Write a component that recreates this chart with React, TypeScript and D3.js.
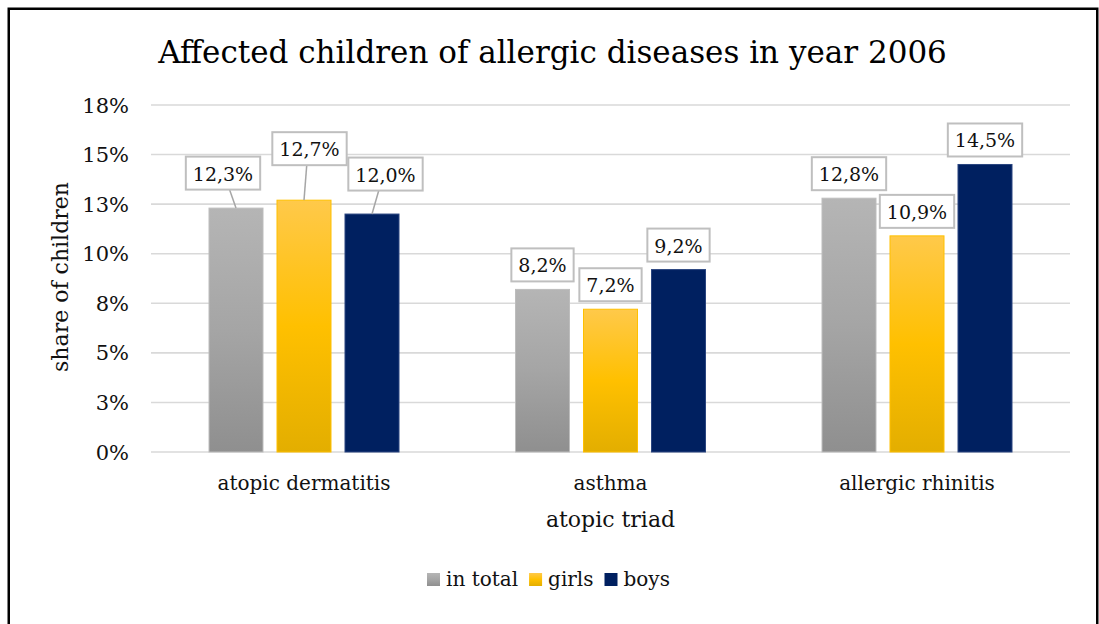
import React, { useEffect, useRef } from "react";
import * as d3 from "d3";

// ---- data ----
const categories = ["atopic dermatitis", "asthma", "allergic rhinitis"];
const seriesNames = ["in total", "girls", "boys"];
const inTotal = [12.3, 8.2, 12.8];
const girls = [12.7, 7.2, 10.9];
const boys = [12.0, 9.2, 14.5];
const tickValues = [0, 2.5, 5, 7.5, 10, 12.5, 15, 17.5];
const tickLabels = ["0%", "3%", "5%", "8%", "10%", "13%", "15%", "18%"];
const titleText = "Affected children of allergic diseases in year 2006";
const yAxisTitle = "share of children";
const xAxisTitle = "atopic triad";

// ---- layout / style ----
const W = 1099;
const H = 624;
const FONT = "'DejaVu Serif', serif";
const PLOT = { left: 151, right: 1070, top: 105, bottom: 452 };

// nudges [dx, dy] for data labels that were moved off their bars, per series then category
const labelNudge: number[][][] = [
  [[-13, -10.5], [0, 0], [0, 0]],
  [[5.5, -27], [0, 0], [0, 0]],
  [[13.5, -15.5], [0, 0], [0, 0]],
];

const gradients = [
  { id: "g-total", stops: ["#b5b5b5", "#a5a5a5", "#8f8f8f"], stroke: "#bdbdbd" },
  { id: "g-girls", stops: ["#ffc94a", "#ffc000", "#e3ae00"], stroke: "#ffc000" },
  { id: "g-boys", stops: ["#002060", "#002060", "#002060"], stroke: "#2a4580" },
];

const fmt = (v: number) => d3.format(".1f")(v).replace(".", ",") + "%";

export default function App() {
  const ref = useRef<SVGSVGElement | null>(null);

  useEffect(() => {
    const svg = d3.select(ref.current);
    svg.selectAll("*").remove();

    const defs = svg.append("defs");
    gradients.forEach((g) => {
      const lg = defs
        .append("linearGradient")
        .attr("id", g.id)
        .attr("x1", 0)
        .attr("y1", 0)
        .attr("x2", 0)
        .attr("y2", 1);
      lg.append("stop").attr("offset", "0%").attr("stop-color", g.stops[0]);
      lg.append("stop").attr("offset", "50%").attr("stop-color", g.stops[1]);
      lg.append("stop").attr("offset", "100%").attr("stop-color", g.stops[2]);
    });

    svg.append("rect").attr("width", W).attr("height", H).attr("fill", "#fff");

    // outer frame
    svg
      .append("rect")
      .attr("x", 8.75)
      .attr("y", 8.75)
      .attr("width", 1088.5)
      .attr("height", 700)
      .attr("fill", "none")
      .attr("stroke", "#000")
      .attr("stroke-width", 2.5);

    const x = d3
      .scaleBand<string>()
      .domain(categories)
      .range([PLOT.left - 0.25, PLOT.right + 0.25])
      .paddingInner(0)
      .paddingOuter(0);
    const xs = d3
      .scaleBand<string>()
      .domain(seriesNames)
      .range([-95, 95])
      .paddingInner(14 / 68);
    const y = d3.scaleLinear().domain([0, 17.5]).range([PLOT.bottom, PLOT.top]);

    // title
    svg
      .append("text")
      .attr("x", 552.5)
      .attr("y", 63)
      .attr("text-anchor", "middle")
      .attr("font-family", FONT)
      .attr("font-size", 31)
      .attr("fill", "#000")
      .text(titleText);

    // gridlines + tick labels
    const grid = svg.append("g");
    tickValues.forEach((v, i) => {
      grid
        .append("line")
        .attr("x1", PLOT.left)
        .attr("x2", PLOT.right)
        .attr("y1", y(v))
        .attr("y2", y(v))
        .attr("stroke", "#d9d9d9")
        .attr("stroke-width", 1.6);
      grid
        .append("text")
        .attr("x", 129)
        .attr("y", y(v) + 7.6)
        .attr("text-anchor", "end")
        .attr("font-family", FONT)
        .attr("font-size", 21)
        .attr("fill", "#111")
        .text(tickLabels[i]);
    });

    // axis titles
    svg
      .append("text")
      .attr("transform", "translate(68,277) rotate(-90)")
      .attr("text-anchor", "middle")
      .attr("font-family", FONT)
      .attr("font-size", 22)
      .attr("fill", "#111")
      .text(yAxisTitle);
    svg
      .append("text")
      .attr("x", (PLOT.left + PLOT.right) / 2)
      .attr("y", 527)
      .attr("text-anchor", "middle")
      .attr("font-family", FONT)
      .attr("font-size", 22)
      .attr("fill", "#111")
      .text(xAxisTitle);

    // category labels
    categories.forEach((c) => {
      svg
        .append("text")
        .attr("x", (x(c) as number) + x.bandwidth() / 2)
        .attr("y", 490)
        .attr("text-anchor", "middle")
        .attr("font-family", FONT)
        .attr("font-size", 20)
        .attr("fill", "#111")
        .text(c);
    });

    // bars
    const seriesValues = [inTotal, girls, boys];
    const bw = xs.bandwidth();
    const bars = svg.append("g");
    seriesValues.forEach((vals, s) => {
      vals.forEach((v, ci) => {
        const cx = (x(categories[ci]) as number) + x.bandwidth() / 2 + (xs(seriesNames[s]) as number);
        bars
          .append("rect")
          .attr("x", cx)
          .attr("y", y(v))
          .attr("width", bw)
          .attr("height", y(0) - y(v))
          .attr("fill", `url(#${gradients[s].id})`)
          .attr("stroke", gradients[s].stroke)
          .attr("stroke-width", 1);
      });
    });

    // data labels
    const labels = svg.append("g");
    seriesValues.forEach((vals, s) => {
      vals.forEach((v, ci) => {
        const barC = (x(categories[ci]) as number) + x.bandwidth() / 2 + (xs(seriesNames[s]) as number) + bw / 2;
        const barTop = y(v);
        const [dx, dy] = labelNudge[s][ci];
        const boxH = 33;
        const boxCx = barC + dx;
        const boxCy = barTop - 8 - boxH / 2 + dy;
        const g = labels.append("g");
        const box = g.append("rect");
        const t = g
          .append("text")
          .attr("x", boxCx)
          .attr("y", boxCy + 7.5)
          .attr("text-anchor", "middle")
          .attr("font-family", FONT)
          .attr("font-size", 19)
          .attr("fill", "#111")
          .text(fmt(v));
        const tw = (t.node() as SVGTextElement).getComputedTextLength();
        const boxW = tw + 14;
        box
          .attr("x", boxCx - boxW / 2)
          .attr("y", boxCy - boxH / 2)
          .attr("width", boxW)
          .attr("height", boxH)
          .attr("fill", "#fff")
          .attr("stroke", "#bfbfbf")
          .attr("stroke-width", 2);
        if (dx !== 0 || dy !== 0) {
          g.insert("line", "rect")
            .attr("x1", (boxCx + barC) / 2)
            .attr("y1", boxCy + boxH / 2)
            .attr("x2", barC)
            .attr("y2", barTop)
            .attr("stroke", "#a6a6a6")
            .attr("stroke-width", 1.5);
        }
      });
    });

    // legend
    const legend = svg.append("g");
    let lx = 427;
    seriesNames.forEach((name, s) => {
      legend
        .append("rect")
        .attr("x", lx)
        .attr("y", 573)
        .attr("width", 13)
        .attr("height", 13)
        .attr("fill", `url(#${gradients[s].id})`);
      const t = legend
        .append("text")
        .attr("x", lx + 19)
        .attr("y", 586)
        .attr("font-family", FONT)
        .attr("font-size", 20)
        .attr("fill", "#111")
        .text(name);
      const tw = (t.node() as SVGTextElement).getComputedTextLength();
      lx += 19 + tw + 11;
    });
  }, []);

  return (
    <svg
      ref={ref}
      width={W}
      height={H}
      style={{ position: "absolute", left: 0, top: 0, display: "block" }}
    />
  );
}
